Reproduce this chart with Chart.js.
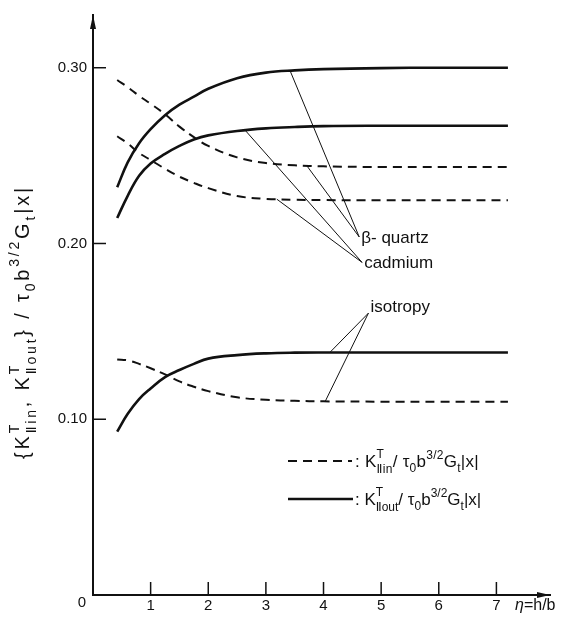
<!DOCTYPE html>
<html>
<head>
<meta charset="utf-8">
<script src="https://cdn.jsdelivr.net/npm/chart.js@4/dist/chart.umd.min.js"></script>
<style>
html,body{margin:0;padding:0;background:#fff;}
canvas{display:block;}
</style>
</head>
<body>
<canvas id="c" width="565" height="626"></canvas>
<script>
// ---- data ----
const etas = [0.42, 0.6, 0.8, 1.0, 1.25, 1.5, 1.75, 2.0, 2.5, 3.0, 3.5, 4.0, 5.0, 6.0, 7.2];
const quartzOut  = [0.232, 0.246, 0.257, 0.265, 0.273, 0.279, 0.2835, 0.288, 0.294, 0.2972, 0.2985, 0.2992, 0.2998, 0.300, 0.300];
const quartzIn   = [0.293, 0.289, 0.284, 0.2795, 0.2735, 0.2665, 0.2605, 0.2555, 0.249, 0.2458, 0.2445, 0.2439, 0.2435, 0.2435, 0.2435];
const cadmiumOut = [0.2145, 0.227, 0.2385, 0.2455, 0.251, 0.2555, 0.2592, 0.2615, 0.264, 0.2655, 0.2663, 0.2668, 0.267, 0.267, 0.267];
const cadmiumIn  = [0.261, 0.257, 0.2515, 0.2475, 0.2425, 0.238, 0.2345, 0.2315, 0.227, 0.2254, 0.2249, 0.2247, 0.2246, 0.2246, 0.2246];
const isoOut     = [0.093, 0.103, 0.1115, 0.1175, 0.124, 0.128, 0.1315, 0.1345, 0.1365, 0.1375, 0.1379, 0.138, 0.138, 0.138, 0.138];
const isoIn      = [0.134, 0.1335, 0.1315, 0.129, 0.1255, 0.1215, 0.1185, 0.116, 0.1125, 0.1111, 0.1105, 0.1102, 0.110, 0.110, 0.110];

const xTicks = [1, 2, 3, 4, 5, 6, 7];
const yTicks = [0.10, 0.20, 0.30];

// leader labels: text, anchor (eta, value), and the eta where each leader meets its curve
const leaderLabels  = ['β- quartz', 'cadmium', 'isotropy'];
const leaderAnchors = [[4.62, 0.2037], [4.67, 0.1892], [4.78, 0.1604]];
const leaderSeries  = [[quartzOut, quartzIn], [cadmiumOut, cadmiumIn], [isoOut, isoIn]];
const leaderEtas    = [[3.42, 3.71], [2.64, 3.19], [4.11, 4.03]];

const INK = '#111';
const FONT = '"Liberation Sans", "DejaVu Sans", sans-serif';

function pts(vals){ return etas.map((e,i)=>({x:e, y:vals[i]})); }
function interp(vals, e){
  for (let i=0;i<etas.length-1;i++){
    if (e>=etas[i] && e<=etas[i+1]){
      const t=(e-etas[i])/(etas[i+1]-etas[i]);
      return vals[i]+t*(vals[i+1]-vals[i]);
    }
  }
  return vals[vals.length-1];
}

// rich text: parts = [{t}, {t, sub:true}, {t, sup:true}, {st: 'sup', sb: 'sub'}]
const SS = 0.68;
function fontFor(p, size){
  if (p.st!==undefined || p.sub || p.sup) return Math.round(size*SS)+'px '+FONT;
  return (p.it?'italic ':'')+size+'px '+FONT;
}
function txtW(ctx, s, gap){ let w=0; for (const ch of s) w+=ctx.measureText(ch).width+gap; return w; }
function txtDraw(ctx, s, x, y, gap){ for (const ch of s){ ctx.fillText(ch, x, y); x+=ctx.measureText(ch).width+gap; } return x; }
function richWidth(ctx, parts, size, gap){
  let w=0;
  for (const p of parts){
    ctx.font=fontFor(p,size);
    if (p.st!==undefined) w += Math.max(txtW(ctx,p.st,gap), txtW(ctx,p.sb,gap));
    else w += txtW(ctx,p.t,gap);
  }
  return w;
}
function countChars(parts){
  let n=0;
  for (const p of parts){
    if (p.st!==undefined) n+=Math.max([...p.st].length,[...p.sb].length);
    else n+=[...p.t].length;
  }
  return n;
}
function drawRich(ctx, x, y, parts, size, gap){
  gap=gap||0;
  ctx.textBaseline='alphabetic';
  ctx.textAlign='left';
  let cx=x;
  for (const p of parts){
    ctx.font=fontFor(p,size);
    if (p.st!==undefined){
      const a=txtDraw(ctx, p.st, cx, y-size*0.52, gap);
      const b=txtDraw(ctx, p.sb, cx, y+size*0.34, gap);
      cx=Math.max(a,b);
    } else if (p.sub){
      cx=txtDraw(ctx, p.t, cx, y+size*0.3, gap);
    } else if (p.sup){
      cx=txtDraw(ctx, p.t, cx, y-size*0.5, gap);
    } else {
      cx=txtDraw(ctx, p.t, cx, y, gap);
    }
  }
  return cx-x;
}
function drawRichFit(ctx, x, y, parts, size, targetW){
  const w=richWidth(ctx, parts, size, 0);
  const gap=Math.max(0,(targetW-w)/countChars(parts));
  drawRich(ctx, x, y, parts, size, gap);
}

const tail = [{t:'/ τ'},{t:'0',sub:true},{t:'b'},{t:'3/2',sup:true},{t:'G'},{t:'t',sub:true},{t:'|x|'}];
const legendIn  = [{t:': K'},{st:'T',sb:'Ⅱin'}].concat(tail);
const legendOut = [{t:': K'},{st:'T',sb:'Ⅱout'}].concat(tail);
const yTitle = [{t:'{K'},{st:'T',sb:'Ⅱin'},{t:', K'},{st:'T',sb:'Ⅱout'},{t:'} '}].concat(tail);

const overlay = {
  id:'overlay',
  afterDatasetsDraw(chart){
    const ctx=chart.ctx, xs=chart.scales.x, ys=chart.scales.y, a=chart.chartArea;
    ctx.save();
    ctx.strokeStyle=INK; ctx.fillStyle=INK;
    // inner tick marks
    ctx.lineWidth=1.5;
    for (const v of yTicks){
      const py=ys.getPixelForValue(v);
      ctx.beginPath(); ctx.moveTo(a.left, py); ctx.lineTo(a.left+13, py); ctx.stroke();
    }
    for (const v of xTicks){
      const px=xs.getPixelForValue(v);
      ctx.beginPath(); ctx.moveTo(px, a.bottom); ctx.lineTo(px, a.bottom-13); ctx.stroke();
    }
    // axis arrows
    ctx.beginPath();
    ctx.moveTo(a.left, a.top); ctx.lineTo(a.left-3, a.top+14); ctx.lineTo(a.left+3, a.top+14); ctx.closePath(); ctx.fill();
    ctx.beginPath();
    ctx.moveTo(a.right, a.bottom); ctx.lineTo(a.right-13, a.bottom-3); ctx.lineTo(a.right-13, a.bottom+3); ctx.closePath(); ctx.fill();
    // leader lines
    ctx.lineWidth=1;
    leaderLabels.forEach((lab,i)=>{
      const ax=xs.getPixelForValue(leaderAnchors[i][0]), ay=ys.getPixelForValue(leaderAnchors[i][1]);
      leaderSeries[i].forEach((ser,j)=>{
        const e=leaderEtas[i][j];
        const px=xs.getPixelForValue(e), py=ys.getPixelForValue(interp(ser,e));
        ctx.beginPath(); ctx.moveTo(ax,ay); ctx.lineTo(px,py); ctx.stroke();
      });
    });
    // leader label texts
    ctx.font='17px '+FONT; ctx.textAlign='left'; ctx.textBaseline='alphabetic';
    const offs=[[2,6],[2,6],[2,-1]];
    leaderLabels.forEach((lab,i)=>{
      const ax=xs.getPixelForValue(leaderAnchors[i][0]), ay=ys.getPixelForValue(leaderAnchors[i][1]);
      ctx.fillText(lab, ax+offs[i][0], ay+offs[i][1]);
    });
    // origin label and x-axis title
    ctx.font='15px '+FONT; ctx.textAlign='center'; ctx.textBaseline='middle';
    ctx.fillText('0', xs.getPixelForValue(0)-11, 603);
    drawRich(ctx, 515, 610, [{t:'η',it:true},{t:'=h/b'}], 16);
    // legend
    ctx.lineWidth=2; ctx.setLineDash([9,6]);
    ctx.beginPath(); ctx.moveTo(288,461); ctx.lineTo(352,461); ctx.stroke();
    ctx.setLineDash([]); ctx.lineWidth=2.6;
    ctx.beginPath(); ctx.moveTo(288,499); ctx.lineTo(353,499); ctx.stroke();
    drawRichFit(ctx, 355, 467, legendIn, 17, 124);
    drawRichFit(ctx, 355, 505, legendOut, 17, 124);
    // y-axis title (rotated)
    ctx.translate(29, 322); ctx.rotate(-Math.PI/2);
    drawRichFit(ctx, -137, 0, yTitle, 20, 274);
    ctx.restore();
  }
};

function ds(label, vals, dashed){
  return {label, data: pts(vals), borderColor: INK, borderWidth: dashed?2:2.6,
    borderDash: dashed?[9,6]:[], pointRadius:0, fill:false, tension:0.4};
}

new Chart(document.getElementById('c'), {
  type:'line',
  data:{ datasets:[
    ds('quartz out', quartzOut, false),
    ds('quartz in', quartzIn, true),
    ds('cadmium out', cadmiumOut, false),
    ds('cadmium in', cadmiumIn, true),
    ds('isotropy out', isoOut, false),
    ds('isotropy in', isoIn, true)
  ]},
  options:{
    responsive:false, animation:false, devicePixelRatio:1,
    layout:{ padding:{ top:5, right:15, left:0, bottom:0 } },
    plugins:{ legend:{display:false}, tooltip:{enabled:false} },
    scales:{
      x:{ type:'linear', min:0, max:7.93,
        afterBuildTicks(s){ s.ticks = xTicks.map(v=>({value:v})); },
        afterFit(s){ s.height = 31; },
        grid:{ display:false, drawTicks:false },
        border:{ display:true, color:INK, width:2 },
        ticks:{ color:INK, font:{ family:FONT, size:15 }, padding:2, maxRotation:0,
          callback:v=>String(v) } },
      y:{ type:'linear', min:0, max:0.33,
        afterBuildTicks(s){ s.ticks = yTicks.map(v=>({value:v})); },
        afterFit(s){ s.width = 93; },
        grid:{ display:false, drawTicks:false },
        border:{ display:true, color:INK, width:2 },
        ticks:{ color:INK, font:{ family:FONT, size:15 }, padding:6,
          callback:v=>v.toFixed(2) } }
    }
  },
  plugins:[overlay]
});
</script>
</body>
</html>
